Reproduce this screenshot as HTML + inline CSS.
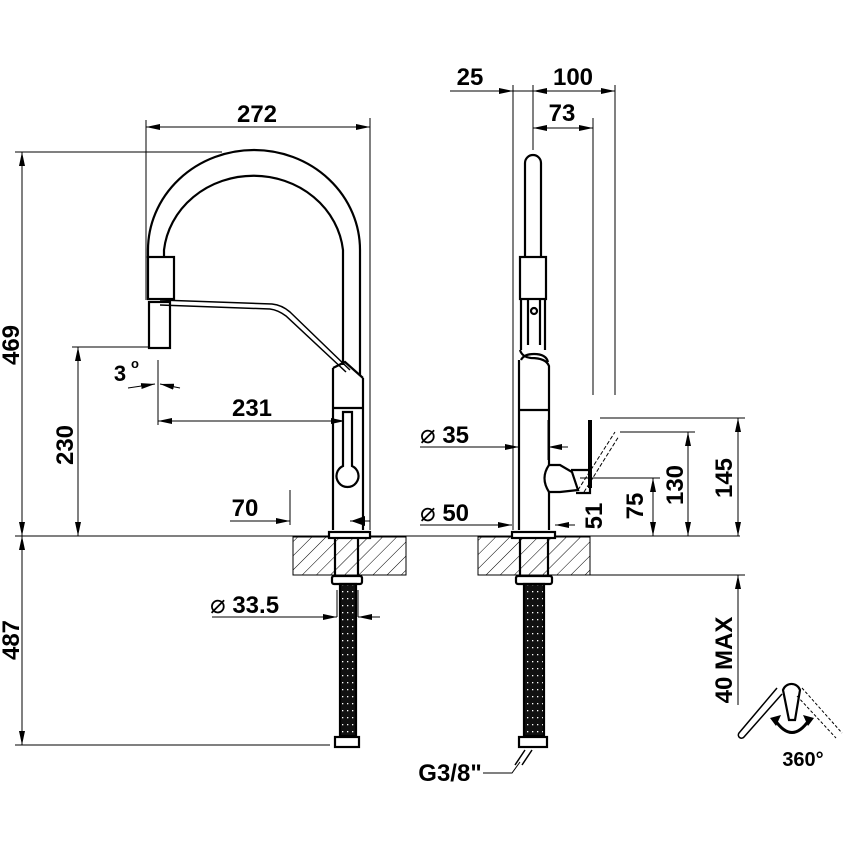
<!DOCTYPE html>
<html><head><meta charset="utf-8"><style>body{margin:0;background:#fff}svg{display:block}text{font-family:"Liberation Sans",sans-serif;font-weight:bold;fill:#000}</style></head>
<body>
<svg width="850" height="850" viewBox="0 0 850 850" xmlns="http://www.w3.org/2000/svg">
<defs>
<marker id="a" viewBox="0 0 14 6" refX="14" refY="3" markerWidth="14" markerHeight="6" orient="auto-start-reverse" markerUnits="userSpaceOnUse"><path d="M0,0L14,3L0,6z"/></marker>
<pattern id="h" width="10" height="10" patternUnits="userSpaceOnUse" patternTransform="rotate(45)"><line x1="0" y1="0" x2="0" y2="10" stroke="#000" stroke-width="1"/></pattern>
<pattern id="d" width="5" height="7" patternUnits="userSpaceOnUse"><rect width="5" height="7" fill="#111"/><rect x="2" y="3" width="1.3" height="1.3" fill="#fff"/></pattern>
</defs>
<g stroke="#000" stroke-width="1" fill="none">
<line x1="15" y1="152" x2="222" y2="152"/>
<line x1="146" y1="120" x2="146" y2="300"/>
<line x1="370" y1="118" x2="370" y2="530"/>
<line x1="72" y1="347" x2="150" y2="347"/>
<line x1="15" y1="536" x2="740" y2="536"/>
<line x1="15" y1="745" x2="330" y2="745"/>
<line x1="590" y1="575" x2="745" y2="575"/>
<line x1="513" y1="85" x2="513" y2="530"/>
<line x1="533" y1="85" x2="533" y2="150"/>
<line x1="615" y1="85" x2="615" y2="395"/>
<line x1="593" y1="118" x2="593" y2="395"/>
<line x1="548" y1="420" x2="548" y2="460"/>
<line x1="600" y1="418" x2="745" y2="418"/>
<line x1="620" y1="432" x2="695" y2="432"/>
<line x1="580" y1="478" x2="660" y2="478"/>
<line x1="158" y1="360" x2="158" y2="425"/>
<line x1="290" y1="490" x2="290" y2="525"/>
<line x1="337" y1="617" x2="337" y2="590"/>
<line x1="358" y1="617" x2="358" y2="590"/>
<line x1="146" y1="127" x2="370" y2="127" marker-start="url(#a)" marker-end="url(#a)"/>
<line x1="22" y1="152" x2="22" y2="536" marker-start="url(#a)" marker-end="url(#a)"/>
<line x1="22" y1="536" x2="22" y2="745" marker-start="url(#a)" marker-end="url(#a)"/>
<line x1="78" y1="347" x2="78" y2="536" marker-start="url(#a)" marker-end="url(#a)"/>
<line x1="158" y1="421" x2="345" y2="421" marker-start="url(#a)" marker-end="url(#a)"/>
<line x1="230" y1="521" x2="290" y2="521" marker-end="url(#a)"/>
<line x1="350" y1="521" x2="370" y2="521" marker-start="url(#a)"/>
<line x1="212" y1="617" x2="337" y2="617" marker-end="url(#a)"/>
<line x1="358" y1="617" x2="380" y2="617" marker-start="url(#a)"/>
<line x1="450" y1="91" x2="513" y2="91" marker-end="url(#a)"/>
<line x1="513" y1="91" x2="615" y2="91"/>
<line x1="533" y1="91" x2="555" y2="91" marker-start="url(#a)"/>
<line x1="595" y1="91" x2="615" y2="91" marker-end="url(#a)"/>
<line x1="533" y1="128" x2="593" y2="128" marker-start="url(#a)" marker-end="url(#a)"/>
<line x1="420" y1="447" x2="519" y2="447" marker-end="url(#a)"/>
<line x1="548" y1="447" x2="568" y2="447" marker-start="url(#a)"/>
<line x1="420" y1="525" x2="512" y2="525" marker-end="url(#a)"/>
<line x1="555" y1="525" x2="575" y2="525" marker-start="url(#a)"/>
<line x1="738" y1="418" x2="738" y2="536" marker-start="url(#a)" marker-end="url(#a)"/>
<line x1="688" y1="432" x2="688" y2="536" marker-start="url(#a)" marker-end="url(#a)"/>
<line x1="653" y1="478" x2="653" y2="536" marker-start="url(#a)" marker-end="url(#a)"/>
<line x1="738" y1="575" x2="738" y2="705" marker-start="url(#a)"/>
<line x1="128" y1="388" x2="155" y2="384" marker-end="url(#a)"/>
<line x1="180" y1="388" x2="160" y2="384" marker-end="url(#a)"/>
<rect x="293" y="537" width="113" height="38" fill="url(#h)"/>
<rect x="478" y="537" width="112" height="38" fill="url(#h)"/>
</g>
<g stroke="#000" stroke-width="2.2" fill="none">
<path d="M148,258 L148,250 A106,100 0 0 1 360,250 L360,375"/>
<path d="M164,258 L164,250 A90,83 0 0 1 343,250 L343,365"/>
<rect x="148" y="257" width="26" height="42" fill="#fff"/>
<rect x="149" y="302" width="21" height="46" fill="#fff"/>
<path d="M160,300 L272,304 Q282,305 290,312 L350,370" stroke-width="1.5"/>
<path d="M160,305 L270,309 Q278,310 286,316 L346,372" stroke-width="1.5"/>
<path d="M333,368 L333,530 M363,378 L363,530 M333,368 L345,362 L363,378"/>
<line x1="333" y1="408" x2="363" y2="408"/>
<path d="M343,412 L352,412 L352,466 A11,11 0 1 1 343,466 Z" fill="#fff"/>
<rect x="329" y="532" width="41" height="6" fill="#fff"/>
<path d="M335,538 L335,575 M358,538 L358,575"/>
<rect x="332" y="576" width="30" height="8" rx="2" fill="#fff"/>
<rect x="340" y="584" width="16" height="152" fill="url(#d)"/>
<rect x="335" y="737" width="24" height="10" fill="#fff"/>
<path d="M525,257 L525,163 A8,8 0 0 1 541,163 L541,257"/>
<rect x="520" y="257" width="26" height="42" fill="#fff"/>
<path d="M521,299 L521,350 M545,299 L545,350 M528,299 L528,345 M540,299 L540,345"/>
<circle cx="534" cy="311" r="3"/>
<path d="M520,350 Q522,357 531,358 Q546,358 549,366 L549,530 M519,360 L519,530"/>
<path d="M521,360 Q524,354 534,354 Q546,354 548,362"/>
<line x1="519" y1="410" x2="549" y2="410"/>
<path d="M549,465 L560,465 L572,472 L578,490 L560,492 L549,492 Q540,478 549,465 Z" fill="#fff"/>
<path d="M571,470 L590,470 L590,493 L576,493"/>
<line x1="590" y1="420" x2="590" y2="488" stroke-width="4"/>
<path d="M578,490 L615,432" stroke-width="1" stroke-dasharray="4,2"/>
<path d="M584,492 L619,436" stroke-width="1" stroke-dasharray="4,2"/>
<rect x="512" y="532" width="43" height="6" fill="#fff"/>
<path d="M520,538 L520,575 M548,538 L548,575"/>
<rect x="516" y="576" width="36" height="8" rx="2" fill="#fff"/>
<rect x="524" y="584" width="20" height="152" fill="url(#d)"/>
<rect x="519" y="737" width="28" height="10" fill="#fff"/>
<path d="M525,750 L515,765 M532,750 L522,765" stroke-width="1.5"/>
<path d="M483,773 L512,773 L520,762" stroke-width="1"/>
<path d="M783,690 A9,9 0 0 1 800,690 L795,720 L789,720 Z" fill="#fff"/>
<path d="M777,688 L739,733 A3,3 0 0 0 744,737 L782,694" stroke-width="1.5"/>
<path d="M802,688 L842,733" stroke-width="1" stroke-dasharray="3,2"/>
<path d="M797,696 L836,738" stroke-width="1" stroke-dasharray="3,2"/>
<path d="M775,720 Q792,745 809,720" stroke-width="3"/>
</g>
<path d="M770,718 L781,715 L776,726 Z M814,718 L803,715 L808,726 Z"/>
<path d="M351,521 L365,516 L365,526 Z"/>
<text x="257" y="122" font-size="24" text-anchor="middle">272</text>
<text transform="translate(19,345) rotate(-90)" font-size="24" text-anchor="middle">469</text>
<text transform="translate(73,445) rotate(-90)" font-size="24" text-anchor="middle">230</text>
<text transform="translate(19,640) rotate(-90)" font-size="24" text-anchor="middle">487</text>
<text x="120" y="381" font-size="22" text-anchor="middle">3</text>
<text x="131" y="368" font-size="13" font-weight="normal">o</text>
<text x="252" y="416" font-size="24" text-anchor="middle">231</text>
<text x="245" y="516" font-size="24" text-anchor="middle">70</text>
<text x="210" y="613" font-size="24"><tspan font-weight="normal" font-size="26">⌀</tspan> 33.5</text>
<text x="470" y="85" font-size="24" text-anchor="middle">25</text>
<text x="573" y="85" font-size="24" text-anchor="middle">100</text>
<text x="562" y="121" font-size="24" text-anchor="middle">73</text>
<text x="420" y="443" font-size="24"><tspan font-weight="normal" font-size="26">⌀</tspan> 35</text>
<text x="420" y="521" font-size="24"><tspan font-weight="normal" font-size="26">⌀</tspan> 50</text>
<text transform="translate(602,516) rotate(-90)" font-size="24" text-anchor="middle">51</text>
<text transform="translate(643,506) rotate(-90)" font-size="24" text-anchor="middle">75</text>
<text transform="translate(683,485) rotate(-90)" font-size="24" text-anchor="middle">130</text>
<text transform="translate(732,478) rotate(-90)" font-size="24" text-anchor="middle">145</text>
<text transform="translate(732,660) rotate(-90)" font-size="24" text-anchor="middle">40 MAX</text>
<text x="450" y="781" font-size="24" text-anchor="middle">G3/8"</text>
<text x="803" y="766" font-size="20" text-anchor="middle">360°</text>
</svg>
</body></html>
